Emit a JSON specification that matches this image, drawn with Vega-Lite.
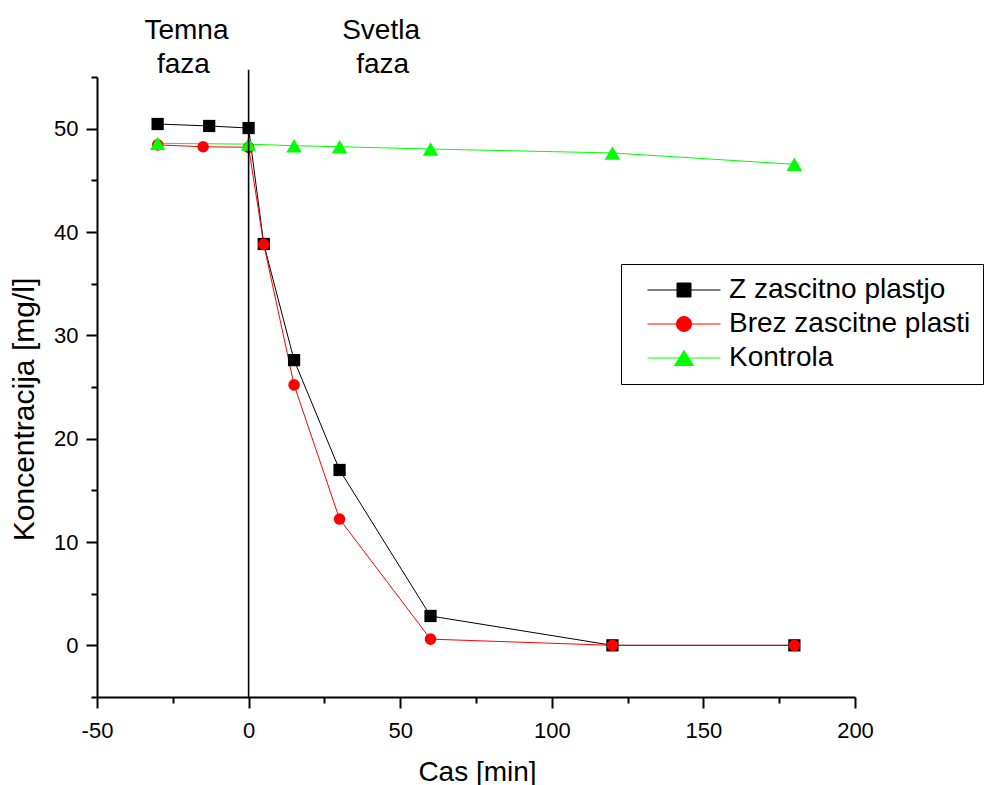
{
  "$schema": "https://vega.github.io/schema/vega-lite/v6.json",
  "width": 758,
  "height": 620,
  "autosize": {"type": "none"},
  "padding": {"left": 97, "top": 77, "right": 131, "bottom": 88},
  "background": "white",
  "config": {
    "font": "Liberation Sans",
    "view": {"stroke": null},
    "axis": {
      "grid": false,
      "domainColor": "black",
      "tickColor": "black",
      "labelColor": "black",
      "titleColor": "black",
      "domainWidth": 2,
      "tickWidth": 2,
      "labelFont": "Liberation Sans",
      "titleFont": "Liberation Sans",
      "labelFontSize": 22,
      "titleFontSize": 28,
      "titleFontWeight": "normal",
      "labelFlush": false,
      "labelOverlap": false
    }
  },
  "datasets": {
    "series": [
      {"series": "Z zascitno plastjo", "t": -30, "c": 50.45},
      {"series": "Z zascitno plastjo", "t": -13, "c": 50.26},
      {"series": "Z zascitno plastjo", "t": 0, "c": 50.06},
      {"series": "Z zascitno plastjo", "t": 5, "c": 38.84},
      {"series": "Z zascitno plastjo", "t": 15, "c": 27.6},
      {"series": "Z zascitno plastjo", "t": 30, "c": 16.97},
      {"series": "Z zascitno plastjo", "t": 60, "c": 2.84},
      {"series": "Z zascitno plastjo", "t": 120, "c": 0},
      {"series": "Z zascitno plastjo", "t": 180, "c": 0},
      {"series": "Brez zascitne plasti", "t": -30, "c": 48.43},
      {"series": "Brez zascitne plasti", "t": -15, "c": 48.25},
      {"series": "Brez zascitne plasti", "t": 0, "c": 48.2},
      {"series": "Brez zascitne plasti", "t": 5, "c": 38.8},
      {"series": "Brez zascitne plasti", "t": 15, "c": 25.2},
      {"series": "Brez zascitne plasti", "t": 30, "c": 12.22},
      {"series": "Brez zascitne plasti", "t": 60, "c": 0.6},
      {"series": "Brez zascitne plasti", "t": 120, "c": 0},
      {"series": "Brez zascitne plasti", "t": 180, "c": 0},
      {"series": "Kontrola", "t": -30, "c": 48.58},
      {"series": "Kontrola", "t": 0, "c": 48.5},
      {"series": "Kontrola", "t": 15, "c": 48.35},
      {"series": "Kontrola", "t": 30, "c": 48.25},
      {"series": "Kontrola", "t": 60, "c": 48.03},
      {"series": "Kontrola", "t": 120, "c": 47.65},
      {"series": "Kontrola", "t": 180, "c": 46.55}
    ],
    "phase": [
      {"label": "Temna", "t": -20.5, "c": 58.65},
      {"label": "faza", "t": -21.5, "c": 55.36},
      {"label": "Svetla", "t": 43.7, "c": 58.65},
      {"label": "faza", "t": 44.2, "c": 55.36}
    ],
    "divider": [
      {"t": 0, "lo": -5, "hi": 55.7}
    ]
  },
  "layer": [
    {
      "data": {"name": "series"},
      "mark": {"type": "line", "strokeWidth": 1},
      "encoding": {
        "x": {
          "field": "t", "type": "quantitative",
          "scale": {"domain": [-50, 200], "nice": false, "zero": false},
          "axis": {
            "orient": "bottom",
            "values": [-50, 0, 50, 100, 150, 200],
            "labelExpr": "datum.value + ''",
            "tickSize": 11,
            "labelPadding": 12,
            "title": "Cas [min]",
            "titleX": 380,
            "titleY": 83,
            "titleBaseline": "alphabetic",
            "titleAlign": "center"
          }
        },
        "y": {
          "field": "c", "type": "quantitative",
          "scale": {"domain": [-5, 55], "nice": false, "zero": false},
          "axis": {
            "orient": "left",
            "values": [0, 10, 20, 30, 40, 50],
            "tickSize": 11,
            "labelPadding": 8,
            "title": "Koncentracija [mg/l]",
            "titleFontSize": 30,
            "titleAngle": 270,
            "titleX": -64,
            "titleY": 332,
            "titleBaseline": "alphabetic",
            "titleAlign": "center"
          }
        },
        "color": {
          "field": "series", "type": "nominal",
          "scale": {
            "domain": ["Z zascitno plastjo", "Brez zascitne plasti", "Kontrola"],
            "range": ["#000000", "#ff0000", "#00ff00"]
          },
          "legend": {
            "title": null,
            "orient": "none",
            "legendX": 524,
            "legendY": 187,
            "strokeColor": "black",
            "padding": 12,
            "labelFont": "Liberation Sans",
            "labelFontSize": 28,
            "labelColor": "black",
            "labelLimit": 600,
            "symbolSize": 256,
            "symbolStrokeWidth": 1,
            "symbolOffset": 37,
            "labelOffset": 31,
            "rowPadding": 6,
            "encoding": {
              "symbols": {
                "shape": {"value": {"expr": "datum.value === 'Kontrola' ? 'M-4.56,0H4.56M0,-0.94L1.19,0.94L-1.19,0.94Z' : (datum.value === 'Brez zascitne plasti' ? 'M-4.56,0H4.56M-0.94,0A0.94,0.94 0 1,0 0.94,0A0.94,0.94 0 1,0 -0.94,0Z' : 'M-4.56,0H4.56M-0.875,-0.875H0.875V0.875H-0.875Z')"}},
                "fill": {"value": {"expr": "datum.value === 'Kontrola' ? '#00ff00' : (datum.value === 'Brez zascitne plasti' ? '#ff0000' : '#000000')"}},
                "stroke": {"value": {"expr": "datum.value === 'Kontrola' ? '#00ff00' : (datum.value === 'Brez zascitne plasti' ? '#ff0000' : '#000000')"}},
                "strokeWidth": {"value": 1},
                "opacity": {"value": 1}
              }
            }
          }
        }
      }
    },
    {
      "data": {"name": "series"},
      "transform": [{"filter": "datum.series === 'Z zascitno plastjo'"}],
      "mark": {"type": "point", "shape": "square", "filled": true, "opacity": 1, "size": 150},
      "encoding": {
        "x": {
          "field": "t", "type": "quantitative",
          "axis": {
            "orient": "bottom",
            "values": [-25, 25, 75, 125, 175],
            "labels": false,
            "domain": false,
            "tickSize": 6,
            "title": null
          }
        },
        "y": {
          "field": "c", "type": "quantitative",
          "axis": {
            "orient": "left",
            "values": [-5, 5, 15, 25, 35, 45, 55],
            "labels": false,
            "domain": false,
            "tickSize": 6,
            "title": null
          }
        },
        "color": {"field": "series", "type": "nominal", "legend": null}
      }
    },
    {
      "data": {"name": "series"},
      "transform": [{"filter": "datum.series === 'Brez zascitne plasti'"}],
      "mark": {"type": "point", "shape": "circle", "filled": true, "opacity": 1, "size": 135},
      "encoding": {
        "x": {"field": "t", "type": "quantitative", "axis": null},
        "y": {"field": "c", "type": "quantitative", "axis": null},
        "color": {"field": "series", "type": "nominal", "legend": null}
      }
    },
    {
      "data": {"name": "series"},
      "transform": [{"filter": "datum.series === 'Kontrola'"}],
      "mark": {"type": "point", "shape": "triangle-up", "filled": true, "opacity": 1, "size": 240},
      "encoding": {
        "x": {"field": "t", "type": "quantitative", "axis": null},
        "y": {"field": "c", "type": "quantitative", "axis": null},
        "color": {"field": "series", "type": "nominal", "legend": null}
      }
    },
    {
      "data": {"name": "divider"},
      "mark": {"type": "rule", "color": "black", "strokeWidth": 1.6},
      "encoding": {
        "x": {"field": "t", "type": "quantitative", "axis": null},
        "y": {"field": "lo", "type": "quantitative", "axis": null},
        "y2": {"field": "hi"}
      }
    },
    {
      "data": {"name": "phase"},
      "mark": {"type": "text", "fontSize": 28, "font": "Liberation Sans", "align": "center", "baseline": "alphabetic", "color": "black"},
      "encoding": {
        "x": {"field": "t", "type": "quantitative", "axis": null},
        "y": {"field": "c", "type": "quantitative", "axis": null},
        "text": {"field": "label"}
      }
    }
  ],
  "resolve": {"axis": {"x": "independent", "y": "independent"}}
}
